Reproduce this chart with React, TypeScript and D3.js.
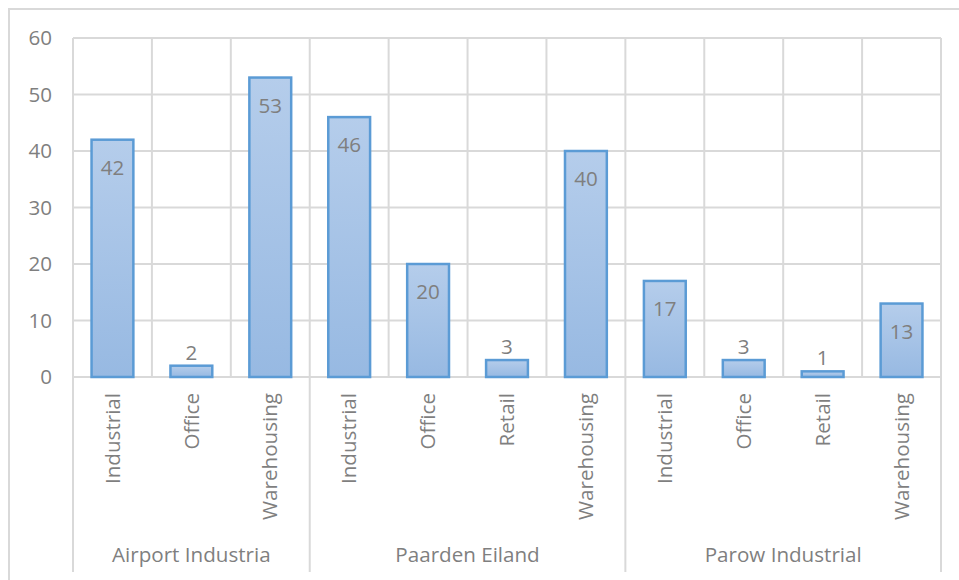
import React from "react";
import * as d3 from "d3";

const groups = ["Airport Industria", "Paarden Eiland", "Parow Industrial"];
const groupCategories = [
  ["Industrial", "Office", "Warehousing"],
  ["Industrial", "Office", "Retail", "Warehousing"],
  ["Industrial", "Office", "Retail", "Warehousing"],
];
const groupValues = [
  [42, 2, 53],
  [46, 20, 3, 40],
  [17, 3, 1, 13],
];
const yTicks = [0, 10, 20, 30, 40, 50, 60];
const insideThreshold = 10;

const W = 959;
const H = 580;
const plot = { left: 73, right: 941, top: 38, bottom: 377 };
const FONT = "'Open Sans', sans-serif";
const TEXT = "#7f7f7f";
const GRID = "#d9d9d9";
const FS = 20.6;

type Item = { key: string; group: number; cat: string; value: number };

export default function App() {
  const items: Item[] = [];
  groups.forEach((g, gi) =>
    groupCategories[gi].forEach((c, ci) =>
      items.push({ key: `${gi}-${ci}`, group: gi, cat: c, value: groupValues[gi][ci] })
    )
  );

  const x = d3
    .scaleBand<string>()
    .domain(items.map((d) => d.key))
    .range([plot.left, plot.right])
    .paddingInner(0)
    .paddingOuter(0);
  const y = d3.scaleLinear().domain([0, 60]).range([plot.bottom, plot.top]);
  const bw = x.bandwidth();
  const barW = bw * 0.53;

  const groupBounds: { start: number; end: number }[] = [];
  let idx = 0;
  groups.forEach((_, gi) => {
    const first = items[idx];
    const last = items[idx + groupCategories[gi].length - 1];
    groupBounds.push({ start: x(first.key)!, end: x(last.key)! + bw });
    idx += groupCategories[gi].length;
  });

  const boundaryXs = items.map((d) => x(d.key)!).concat([plot.right]);
  const groupEdgeSet = new Set<number>();
  groupBounds.forEach((b) => {
    groupEdgeSet.add(Math.round(b.start * 10));
    groupEdgeSet.add(Math.round(b.end * 10));
  });

  return (
    <div style={{ position: "absolute", left: 0, top: 0 }}>
      <svg width={W} height={H} style={{ display: "block", background: "#fff" }}>
        <defs>
          <linearGradient id="barGrad" x1="0" y1="0" x2="0" y2="1">
            <stop offset="0%" stopColor="#b5cdeb" />
            <stop offset="100%" stopColor="#97b9e2" />
          </linearGradient>
        </defs>
        <rect x={9} y={9} width={W + 20} height={H + 20} fill="none" stroke={GRID} strokeWidth={2} />

        {yTicks.map((t) => (
          <line
            key={`h${t}`}
            x1={plot.left}
            x2={plot.right}
            y1={y(t)}
            y2={y(t)}
            stroke={GRID}
            strokeWidth={2}
          />
        ))}
        {boundaryXs.map((bx, i) => {
          const isEdge = groupEdgeSet.has(Math.round(bx * 10));
          return (
            <line
              key={`v${i}`}
              x1={bx}
              x2={bx}
              y1={plot.top}
              y2={isEdge ? 572 : plot.bottom}
              stroke={GRID}
              strokeWidth={2}
            />
          );
        })}

        {yTicks.map((t) => (
          <text
            key={`yt${t}`}
            x={52}
            y={y(t) + 7}
            textAnchor="end"
            fontFamily={FONT}
            fontSize={FS}
            fill={TEXT}
          >
            {t}
          </text>
        ))}

        {items.map((d) => {
          const cx = x(d.key)! + bw / 2;
          const top = y(d.value);
          return (
            <g key={`b${d.key}`}>
              <rect
                x={cx - barW / 2}
                y={top}
                width={barW}
                height={y(0) - top}
                fill="url(#barGrad)"
                stroke="#5b9bd5"
                strokeWidth={2.5}
              />
              <text
                x={cx}
                y={d.value >= insideThreshold ? top + 35 : top - 6}
                textAnchor="middle"
                fontFamily={FONT}
                fontSize={FS}
                fill={TEXT}
              >
                {d.value}
              </text>
              <text
                transform={`translate(${cx},393) rotate(-90)`}
                textAnchor="end"
                dy="0.35em"
                fontFamily={FONT}
                fontSize={FS}
                fill={TEXT}
              >
                {d.cat}
              </text>
            </g>
          );
        })}

        {groups.map((g, gi) => (
          <text
            key={`g${gi}`}
            x={(groupBounds[gi].start + groupBounds[gi].end) / 2}
            y={562}
            textAnchor="middle"
            fontFamily={FONT}
            fontSize={FS}
            fill={TEXT}
          >
            {g}
          </text>
        ))}
      </svg>
    </div>
  );
}
